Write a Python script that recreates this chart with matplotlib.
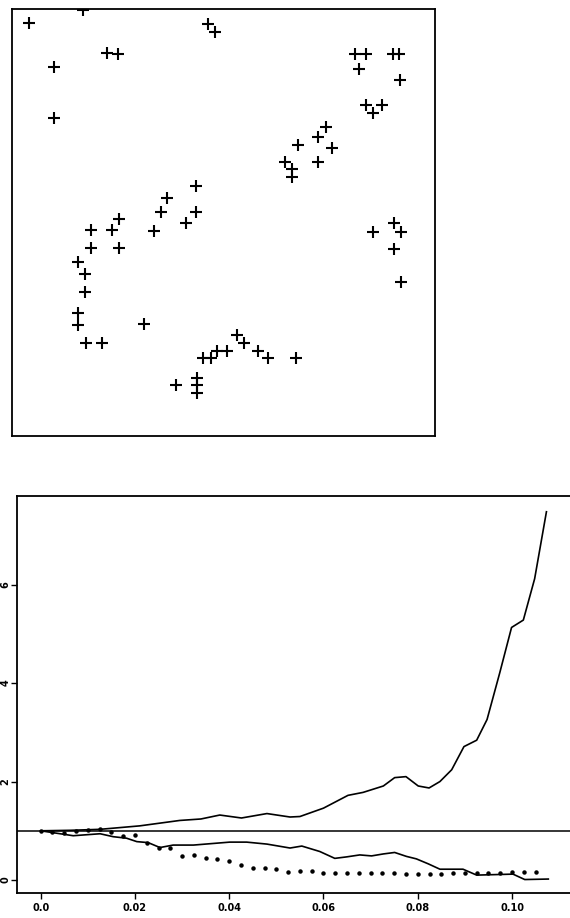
import matplotlib
matplotlib.use("Agg")
import matplotlib.pyplot as plt
import numpy as np

# point pattern (unit square)
pts_x = [0.041, 0.167, 0.463, 0.480, 0.224, 0.251, 0.099, 0.099, 0.811, 0.836,
         0.900, 0.916, 0.820, 0.917, 0.836, 0.853, 0.876, 0.742, 0.724, 0.757,
         0.677, 0.645, 0.663, 0.663, 0.724, 0.434, 0.367, 0.352, 0.434, 0.253,
         0.186, 0.237, 0.336, 0.411, 0.186, 0.254, 0.155, 0.173, 0.173, 0.155,
         0.155, 0.174, 0.214, 0.313, 0.533, 0.549, 0.452, 0.470, 0.485, 0.509,
         0.581, 0.606, 0.671, 0.387, 0.438, 0.438, 0.438, 0.854, 0.903, 0.921,
         0.903, 0.921]
pts_y = [0.968, 0.999, 0.966, 0.947, 0.898, 0.896, 0.865, 0.746, 0.895, 0.895,
         0.895, 0.895, 0.859, 0.834, 0.775, 0.757, 0.775, 0.725, 0.700, 0.674,
         0.682, 0.642, 0.625, 0.607, 0.641, 0.585, 0.557, 0.525, 0.525, 0.509,
         0.482, 0.482, 0.481, 0.500, 0.440, 0.440, 0.407, 0.379, 0.337, 0.289,
         0.261, 0.217, 0.217, 0.262, 0.237, 0.217, 0.184, 0.184, 0.200, 0.200,
         0.200, 0.184, 0.183, 0.119, 0.137, 0.119, 0.101, 0.479, 0.498, 0.479,
         0.438, 0.361]

# upper envelope
up_x = [0.0, 0.0063, 0.0126, 0.021, 0.0295, 0.034, 0.038, 0.0426, 0.048, 0.0529,
        0.055, 0.060, 0.0652, 0.0684, 0.0727, 0.0751, 0.0775, 0.0801, 0.0824,
        0.0847, 0.0872, 0.0898, 0.0925, 0.0947, 0.0974, 0.0999, 0.1024, 0.1048, 0.1073]
up_y = [1.0, 1.01, 1.03, 1.10, 1.21, 1.24, 1.32, 1.26, 1.35, 1.28,
        1.29, 1.46, 1.72, 1.78, 1.91, 2.08, 2.10, 1.91, 1.87,
        2.00, 2.24, 2.71, 2.84, 3.26, 4.21, 5.13, 5.28, 6.12, 7.48]

# lower envelope
lo_x = [0.0, 0.0069, 0.0126, 0.0154, 0.0182, 0.0204, 0.0228, 0.0253, 0.0281, 0.0324,
        0.0401, 0.0437, 0.048, 0.0529, 0.0554, 0.0592, 0.0624, 0.0649, 0.0677,
        0.0702, 0.0727, 0.0751, 0.0776, 0.0797, 0.0822, 0.0847, 0.0896, 0.0925,
        0.1002, 0.1027, 0.1077]
lo_y = [1.0, 0.90, 0.94, 0.88, 0.85, 0.78, 0.76, 0.66, 0.71, 0.71,
        0.77, 0.77, 0.73, 0.65, 0.69, 0.58, 0.44, 0.47, 0.51,
        0.49, 0.53, 0.56, 0.48, 0.43, 0.33, 0.22, 0.22, 0.10,
        0.12, 0.01, 0.02]

# observed statistic (dots)
obs_x = np.arange(0, 43) * 0.0025
obs_y = [1.00, 0.98, 0.96, 1.00, 1.02, 1.03, 0.98, 0.90, 0.91, 0.76,
         0.65, 0.66, 0.49, 0.50, 0.44, 0.42, 0.38, 0.31, 0.24, 0.24,
         0.22, 0.17, 0.19, 0.19, 0.14, 0.15, 0.14, 0.14, 0.14, 0.14,
         0.15, 0.12, 0.12, 0.12, 0.12, 0.14, 0.14, 0.14, 0.15, 0.15,
         0.16, 0.17, 0.17]

fig = plt.figure(figsize=(5.7, 9.18), dpi=100)

# top panel: point pattern
ax1 = fig.add_axes([0.021, 0.525, 0.742, 0.465])
ax1.plot(pts_x, pts_y, linestyle='none', marker='+', color='black',
         markersize=8, markeredgewidth=1.5)
ax1.set_xlim(0, 1)
ax1.set_ylim(0, 1)
ax1.set_xticks([])
ax1.set_yticks([])
for s in ax1.spines.values():
    s.set_linewidth(1.3)

# bottom panel: envelopes
ax2 = fig.add_axes([0.0307, 0.0272, 0.9693, 0.4325])
ax2.axhline(1.0, color='black', linewidth=1.1)
ax2.plot(up_x, up_y, color='black', linewidth=1.2)
ax2.plot(lo_x, lo_y, color='black', linewidth=1.2)
ax2.plot(obs_x, obs_y, linestyle='none', marker='o', color='black', markersize=2.2)
ax2.set_xlim(-0.00492, 0.1123)
ax2.set_ylim(-0.264, 7.80)
ax2.spines['right'].set_visible(False)
for s in ['left', 'top', 'bottom']:
    ax2.spines[s].set_linewidth(1.3)
ax2.set_xticks([0.0, 0.02, 0.04, 0.06, 0.08, 0.10])
ax2.set_xticklabels(['0.0', '0.02', '0.04', '0.06', '0.08', '0.10'],
                    fontsize=7, fontweight='bold')
ax2.set_yticks([0, 2, 4, 6])
ax2.set_yticklabels(['0', '2', '4', '6'], fontsize=7, fontweight='bold',
                    rotation=90, va='center')
ax2.tick_params(axis='x', direction='out', length=4, width=1, pad=3)
ax2.tick_params(axis='y', direction='out', length=4, width=1, pad=1)

fig.savefig('out.png', dpi=100)
